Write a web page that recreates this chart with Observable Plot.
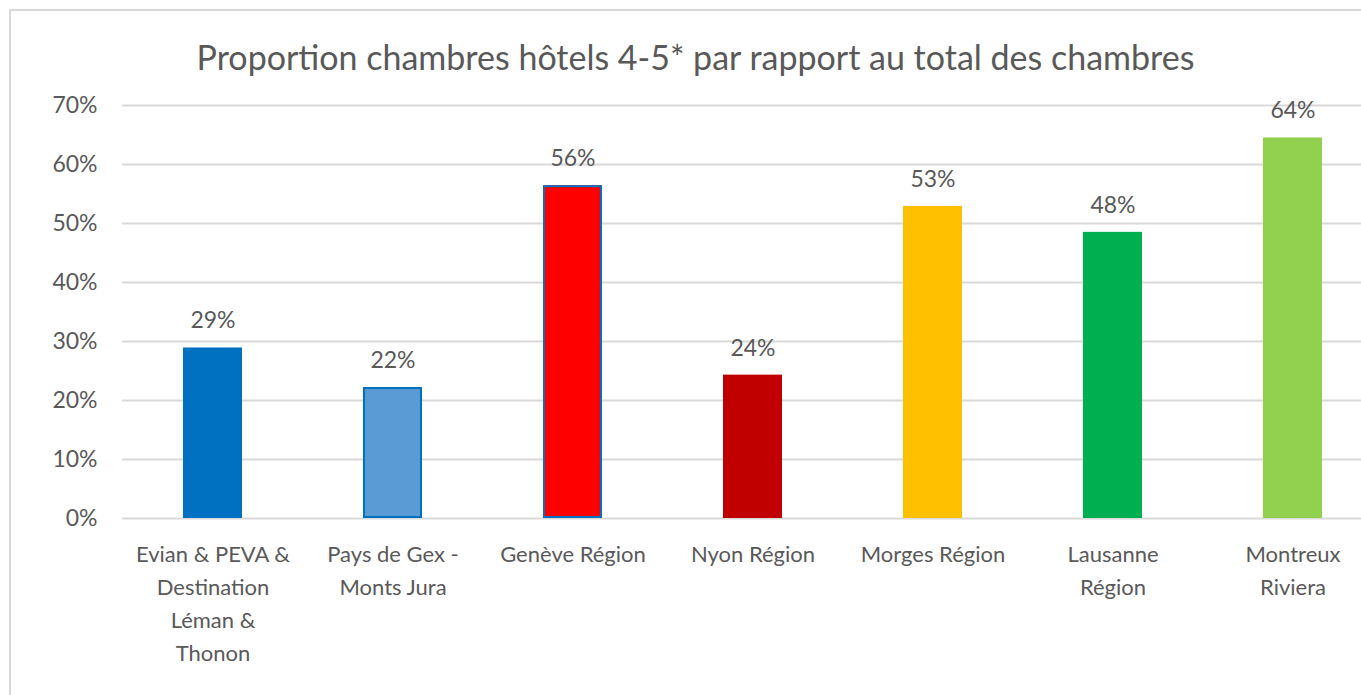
<!DOCTYPE html>
<html>
<head>
<meta charset="utf-8">
<script src="https://cdn.jsdelivr.net/npm/d3@7"></script>
<script src="https://cdn.jsdelivr.net/npm/@observablehq/plot@0.6"></script>
<style>
  html, body { margin: 0; padding: 0; background: #fff; overflow: hidden; }
  #wrap { position: relative; width: 1361px; height: 695px; overflow: hidden; font-family: Lato, "Open Sans", sans-serif; }
  #frame { position: absolute; left: 9px; top: 9px; width: 1400px; height: 720px; border: 2px solid #d9d9d9; box-sizing: border-box; }
  #title { position: absolute; left: 0; top: 35px; width: 1391px; text-align: center; font-size: 34px; line-height: 44px; color: #595959; white-space: nowrap; }
  #chart { position: absolute; left: 0; top: 0; }
</style>
</head>
<body>
<div id="wrap">
  <div id="frame"></div>
  <div id="title">Proportion chambres hôtels 4-5* par rapport au total des chambres</div>
  <div id="chart"></div>
</div>
<script>
const categories = ["Evian", "Pays de Gex", "Genève", "Nyon", "Morges", "Lausanne", "Montreux"];
const tickLabels = [
  "Evian & PEVA &\nDestination\nLéman &\nThonon",
  "Pays de Gex -\nMonts Jura",
  "Genève Région",
  "Nyon Région",
  "Morges Région",
  "Lausanne\nRégion",
  "Montreux\nRiviera"
];
const values = [0.289, 0.222, 0.564, 0.243, 0.529, 0.485, 0.645];
const valueLabels = ["29%", "22%", "56%", "24%", "53%", "48%", "64%"];
const yTicks = [0, 0.1, 0.2, 0.3, 0.4, 0.5, 0.6, 0.7];

const fillColors = ["#0070C0", "#5B9BD5", "#FF0000", "#C00000", "#FFC000", "#00B050", "#92D050"];

const data = categories.map((c, i) => ({category: c, value: values[i], label: valueLabels[i], tick: tickLabels[i], outlined: i === 1 || i === 2}));

const textColor = "#595959";

const chart = Plot.plot({
  width: 1361,
  height: 695,
  marginTop: 105,
  marginBottom: 177,
  marginLeft: 122,
  marginRight: 0,
  style: {fontFamily: "Lato, 'Open Sans', sans-serif", color: textColor, background: "transparent", overflow: "visible"},
  x: {domain: categories, range: [122.5, 1382.5], paddingInner: 0.672, paddingOuter: 0.336, axis: null},
  y: {domain: [0, 0.7], axis: null},
  color: {domain: categories, range: fillColors},
  marks: [
    Plot.ruleY(yTicks, {y: d => d, stroke: "#d9d9d9", strokeWidth: 2}),
    Plot.text(yTicks, {y: d => d, frameAnchor: "left", dx: -25, textAnchor: "end", text: d => d3.format(".0%")(d), fontSize: 23, fill: textColor}),
    Plot.barY(data, {x: "category", y: "value", fill: "category"}),
    Plot.barY(data.filter(d => d.outlined), {x: "category", y: "value", fill: "category", stroke: "#0070C0", strokeWidth: 2, inset: 1}),
    Plot.text(data, {x: "category", y: "value", text: "label", dy: -27, lineAnchor: "middle", fontSize: 23, fill: textColor}),
    Plot.text(data, {x: "category", text: "tick", frameAnchor: "bottom", lineAnchor: "top", dy: 20, lineHeight: 1.5, fontSize: 22, fill: textColor})
  ]
});
document.getElementById("chart").appendChild(chart);
</script>
</body>
</html>
